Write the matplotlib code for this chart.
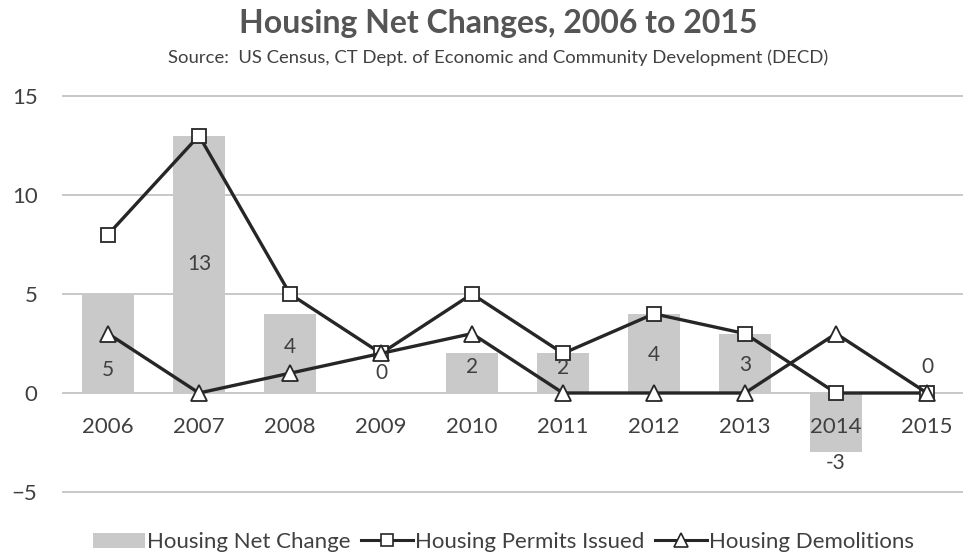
import matplotlib
matplotlib.use('Agg')
import matplotlib.pyplot as plt
from matplotlib.patches import Patch
from matplotlib.lines import Line2D

# Data
years = ['2006', '2007', '2008', '2009', '2010', '2011', '2012', '2013', '2014', '2015']
net_change = [5, 13, 4, 0, 2, 2, 4, 3, -3, 0]
permits = [8, 13, 5, 2, 5, 2, 4, 3, 0, 0]
demolitions = [3, 0, 1, 2, 3, 0, 0, 0, 3, 0]
y_ticks = [-5, 0, 5, 10, 15]

# vertical spot of each bar's value label (as placed in the original)
label_y = [1.15, 6.5, 2.3, 1.0, 1.3, 1.25, 1.9, 1.4, -3.55, 1.3]

plt.rcParams['font.family'] = ['Lato', 'DejaVu Sans']

BAR = '#c9c9c9'
LINE = '#262626'
TXT = '#404040'
GRID = '#c8c8c8'

fig = plt.figure(figsize=(9.63, 5.56), dpi=100)
ax = fig.add_axes([62.5 / 963, 64 / 556, 910 / 963, 396 / 556])

x = list(range(len(years)))

# Gridlines behind everything (drawn by hand so tick labels can sit on top of bars)
for t in y_ticks:
    ax.axhline(t, color=GRID, lw=1.4, zorder=0.5, clip_on=False)

# Bars for net change
ax.bar(x, net_change, width=0.57, color=BAR, zorder=1)

# Lines
ax.plot(x, permits, color=LINE, lw=2.4, marker='s', ms=10.5,
        mfc='white', mec=LINE, mew=1.3, zorder=3)
ax.plot(x, demolitions, color=LINE, lw=2.4, marker='^', ms=12,
        mfc='white', mec=LINE, mew=1.3, zorder=4)

# Value labels for the bars
for xi, v, ly in zip(x, net_change, label_y):
    ax.text(xi, ly, str(v), ha='center', va='center', fontsize=15,
            color=TXT, zorder=5)

ax.set_xlim(-0.5, len(years) - 0.5)
ax.set_ylim(-5, 15)
ax.set_yticks(y_ticks)
ax.set_xticks(x)
ax.set_xticklabels(years)
# category axis crosses at zero, as in Excel
ax.spines['bottom'].set_position(('data', 0))
ax.tick_params(axis='both', length=0, labelsize=16, colors=TXT)
ax.tick_params(axis='x', pad=17)
ax.tick_params(axis='y', pad=18)

for s in ax.spines.values():
    s.set_visible(False)

# Titles
fig.text(0.517, 0.958, 'Housing Net Changes, 2006 to 2015', ha='center', va='center',
         fontsize=23, fontweight='bold', color='#555555')
fig.text(0.517, 0.897, 'Source:  US Census, CT Dept. of Economic and Community Development (DECD)',
         ha='center', va='center', fontsize=13.3, color='#404040')

# Legend
handles = [
    Patch(facecolor=BAR, edgecolor='none'),
    Line2D([0], [0], color=LINE, lw=2.2, marker='s', ms=9, mfc='white', mec=LINE, mew=1.2),
    Line2D([0], [0], color=LINE, lw=2.2, marker='^', ms=10, mfc='white', mec=LINE, mew=1.2),
]
labels = ['Housing Net Change', 'Housing Permits Issued', 'Housing Demolitions']
leg = fig.legend(handles, labels, loc='center', bbox_to_anchor=(0.523, 0.025), ncol=3,
                 frameon=False, fontsize=16, handlelength=2.35, handletextpad=0.1,
                 columnspacing=0.45, labelcolor=TXT, borderpad=0)

fig.savefig('out.png', dpi=100, facecolor='white')
